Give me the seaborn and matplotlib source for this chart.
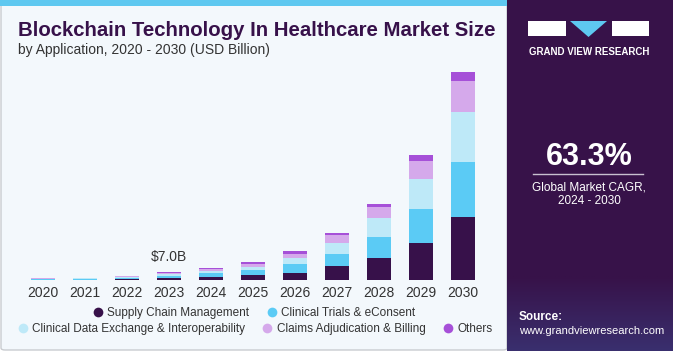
import numpy as np
import pandas as pd
import matplotlib.pyplot as plt
import seaborn as sns
from matplotlib.patches import Rectangle, Polygon, FancyBboxPatch
from matplotlib.lines import Line2D

# Data (USD billion)
years = ['2020', '2021', '2022', '2023', '2024', '2025', '2026', '2027', '2028', '2029', '2030']
supply_chain = [0.35, 0.4, 0.8, 1.7, 2.8, 4.4, 6.4, 12.3, 19.5, 32.6, 54.8]
clinical_trials = [0.4, 0.5, 0.9, 1.9, 2.9, 4.3, 7.6, 10.8, 18.4, 29.8, 48.7]
data_exchange = [0.35, 0.45, 0.8, 1.6, 2.3, 3.0, 5.0, 9.0, 16.0, 26.0, 43.8]
claims = [0.4, 0.45, 0.7, 1.3, 1.8, 2.6, 3.8, 7.0, 9.6, 16.0, 26.5]
others = [0.2, 0.2, 0.3, 0.5, 0.7, 1.1, 2.4, 2.4, 3.2, 5.3, 8.5]

segments = ['Supply Chain Management', 'Clinical Trials & eConsent',
            'Clinical Data Exchange & Interoperability', 'Claims Adjudication & Billing', 'Others']
colors = ['#37114a', '#5bcbf5', '#bee9f8', '#d5a9eb', '#a650d8']

df = pd.DataFrame({'year': years,
                   segments[0]: supply_chain,
                   segments[1]: clinical_trials,
                   segments[2]: data_exchange,
                   segments[3]: claims,
                   segments[4]: others})

W, H = 673, 351
fig = plt.figure(figsize=(W / 100, H / 100), dpi=100)
fig.patch.set_facecolor('white')

# left panel background + top stripe
fig.patches.append(FancyBboxPatch((1 / W, 1 / H), 506 / W, 346 / H, boxstyle='round,pad=0,rounding_size=0.006',
                                  transform=fig.transFigure, facecolor='#f3f8fc', edgecolor='#c9ccd0', lw=1,
                                  zorder=-3))
fig.patches.append(Rectangle((0, (H - 6) / H), 508 / W, 6 / H, transform=fig.transFigure,
                             facecolor='#5ec8f0', edgecolor='none', zorder=-2))
# right panel
fig.patches.append(Rectangle((507 / W, 0), (W - 507) / W, 1, transform=fig.transFigure,
                             facecolor='#371249', edgecolor='none', zorder=-2))
grad = np.linspace(0, 1, 60).reshape(-1, 1)
gax = fig.add_axes([507 / W, 0, (W - 507) / W, 75 / H])
gax.imshow(grad, aspect='auto', cmap=sns.blend_palette(['#3a2f6e', '#371249'], as_cmap=True), origin='lower')
gax.axis('off')

ax = fig.add_axes([22 / W, (H - 280) / H, 462 / W, 220 / H])
ax.set_facecolor('none')

# stacked bars: draw cumulative totals from the top segment down
cum = df[segments].cumsum(axis=1)
for i in range(len(segments) - 1, -1, -1):
    sns.barplot(x=df['year'], y=cum[segments[i]], color=colors[i], width=0.58,
                saturation=1, ax=ax, edgecolor='none', linewidth=0)

ax.set_xlim(-0.5, len(years) - 0.5)
ax.set_ylim(0, 192.5)
ax.set_xlabel('')
ax.set_ylabel('')
ax.set_yticks([])
ax.set_xticks(range(len(years)))
ax.set_xticklabels(years, fontsize=10, color='#333333', family='Liberation Sans')
ax.tick_params(axis='x', length=0, pad=4)
for s in ax.spines.values():
    s.set_visible(False)

total_2023 = cum[segments[-1]].iloc[3]
ax.annotate('$7.0B', xy=(3, total_2023), xytext=(0, 6), textcoords='offset points',
            ha='center', va='bottom', fontsize=10, color='#333333', family='Liberation Sans')

# titles
fig.text(18 / W, 1 - 30 / H, 'Blockchain Technology In Healthcare Market Size', fontsize=14.7,
         fontweight='bold', color='#37114a', va='center', family='Liberation Sans')
fig.text(18 / W, 1 - 50 / H, 'by Application, 2020 - 2030 (USD Billion)', fontsize=10,
         color='#333333', va='center', family='Liberation Sans')

# legend (two rows)
handles = [Line2D([], [], marker='o', linestyle='none', markersize=7, markerfacecolor=c, markeredgecolor='none')
           for c in colors]
leg_font = {'family': 'Liberation Sans', 'size': 8.5}
fig.legend(handles[:2], segments[:2], loc='center', bbox_to_anchor=(253 / W, 1 - 313 / H), ncol=2,
           frameon=False, prop=leg_font, handletextpad=0.2,
           columnspacing=1.3, handlelength=1.2, labelcolor='#333333')
fig.legend(handles[2:], segments[2:], loc='center', bbox_to_anchor=(254 / W, 1 - 329 / H), ncol=3,
           frameon=False, prop=leg_font, handletextpad=0.2,
           columnspacing=1.3, handlelength=1.2, labelcolor='#333333')

# logo
fig.patches.append(Rectangle((528 / W, 1 - 36 / H), 38 / W, 15 / H, transform=fig.transFigure,
                             facecolor='white', edgecolor='none', zorder=3))
fig.patches.append(Polygon([(570 / W, 1 - 21 / H), (607 / W, 1 - 21 / H), (588.5 / W, 1 - 37 / H)],
                           transform=fig.transFigure, facecolor='#5ec8f0', edgecolor='none', zorder=3))
fig.patches.append(Rectangle((612 / W, 1 - 36 / H), 37 / W, 15 / H, transform=fig.transFigure,
                             facecolor='white', edgecolor='none', zorder=3))
fig.text(589 / W, 1 - 52 / H, 'GRAND VIEW RESEARCH', fontsize=7, fontweight='bold', color='white',
         ha='center', va='center', family='Liberation Sans')

fig.text(589 / W, 1 - 157 / H, '63.3%', fontsize=22, fontweight='bold', color='white',
         ha='center', va='center', family='Liberation Sans')
fig.lines.append(Line2D([533 / W, 643 / W], [1 - 174 / H, 1 - 174 / H], transform=fig.transFigure,
                        color='#c8c0d0', lw=1))
fig.text(589 / W, 1 - 187.5 / H, 'Global Market CAGR,', fontsize=8.5, color='white',
         ha='center', va='center', family='Liberation Sans')
fig.text(589 / W, 1 - 201 / H, '2024 - 2030', fontsize=8.5, color='white',
         ha='center', va='center', family='Liberation Sans')
fig.text(519 / W, 1 - 317 / H, 'Source:', fontsize=8.5, fontweight='bold', color='white',
         ha='left', va='center', family='Liberation Sans')
fig.text(519 / W, 1 - 331 / H, 'www.grandviewresearch.com', fontsize=8, color='white',
         ha='left', va='center', family='Liberation Sans')

fig.savefig('out.png', dpi=100)
